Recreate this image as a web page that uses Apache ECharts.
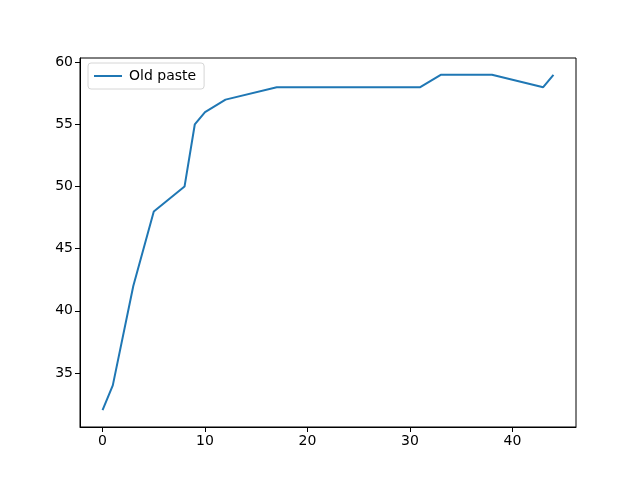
<!DOCTYPE html>
<html>
<head>
<meta charset="utf-8">
<script src="https://cdn.jsdelivr.net/npm/echarts@6/dist/echarts.min.js"></script>
<style>html,body{margin:0;padding:0;background:#fff;}#c{width:640px;height:480px;}</style>
</head>
<body>
<div id="c"></div>
<script>
const seriesName = "Old paste";
const xValues = [0, 1, 3, 5, 8, 9, 10, 12, 17, 31, 33, 38, 43, 44];
const yValues = [32, 34, 42, 48, 50, 55, 56, 57, 58, 58, 59, 59, 58, 59];
const xTicks = [0, 10, 20, 30, 40];
const yTicks = [35, 40, 45, 50, 55, 60];

const chart = echarts.init(document.getElementById('c'), null, {renderer: 'canvas'});
const font = 'DejaVu Sans';
chart.setOption({
  animation: false,
  backgroundColor: '#fff',
  grid: {left: 80, right: 64, top: 58, bottom: 53, show: true, borderColor: '#000', borderWidth: 1, containLabel: false},
  legend: {
    left: 88, top: 63,
    data: [{name: seriesName, icon: 'rect'}],
    itemWidth: 28, itemHeight: 2, itemGap: 8,
    padding: [6, 8, 6, 6],
    borderColor: '#d6d6d6', borderWidth: 1, borderRadius: 3,
    backgroundColor: 'rgba(255,255,255,0.8)',
    textStyle: {fontFamily: font, fontSize: 14, color: '#000', padding: [0, 0, 0, 2]}
  },
  xAxis: {
    type: 'value', min: -2.2, max: 46.2,
    splitLine: {show: false},
    axisLine: {show: true, onZero: false, lineStyle: {color: '#000', width: 1}},
    axisTick: {show: true, inside: false, length: 5, customValues: xTicks, lineStyle: {color: '#000'}},
    axisLabel: {customValues: xTicks, fontFamily: font, fontSize: 14, color: '#000', margin: 7}
  },
  yAxis: {
    type: 'value', min: 30.65, max: 60.35,
    splitLine: {show: false},
    axisLine: {show: true, onZero: false, lineStyle: {color: '#000', width: 1}},
    axisTick: {show: true, inside: false, length: 5, customValues: yTicks, lineStyle: {color: '#000'}},
    axisLabel: {customValues: yTicks, fontFamily: font, fontSize: 14, color: '#000', margin: 7}
  },
  series: [{
    name: seriesName, type: 'line',
    data: xValues.map((x, i) => [x, yValues[i]]),
    showSymbol: false, symbol: 'none',
    lineStyle: {color: '#1f77b4', width: 2},
    itemStyle: {color: '#1f77b4'}
  }]
});
</script>
</body>
</html>
